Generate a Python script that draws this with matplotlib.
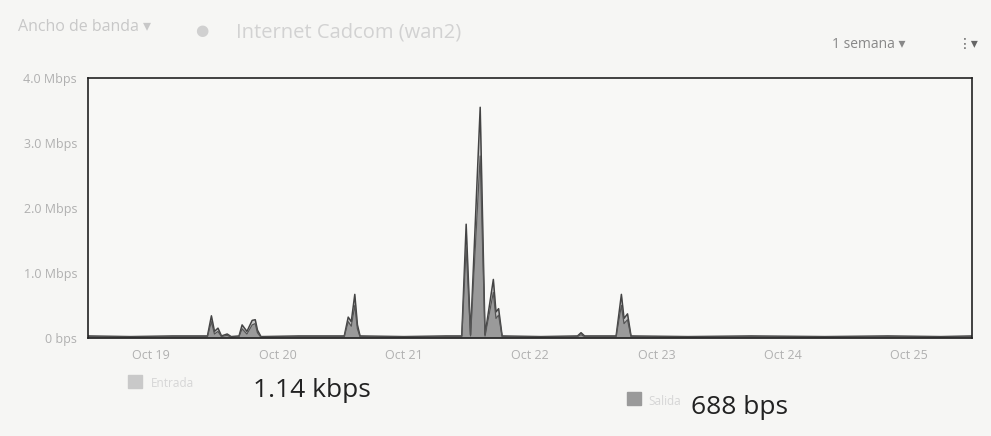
import numpy as np
import pandas as pd
import matplotlib.pyplot as plt
import matplotlib.dates as mdates

plt.rcParams['font.family'] = ['Open Sans', 'DejaVu Sans']

# times and bandwidth in Mbps
times = ["2017-10-18 12:00", "2017-10-18 20:00", "2017-10-19 04:00", "2017-10-19 10:40",
         "2017-10-19 11:25", "2017-10-19 12:00", "2017-10-19 12:40", "2017-10-19 13:20",
         "2017-10-19 14:25", "2017-10-19 15:10", "2017-10-19 16:40", "2017-10-19 17:15",
         "2017-10-19 18:10", "2017-10-19 19:10", "2017-10-19 19:45", "2017-10-19 20:10",
         "2017-10-19 20:50", "2017-10-20 04:00", "2017-10-20 12:40", "2017-10-20 13:25",
         "2017-10-20 14:00", "2017-10-20 14:40", "2017-10-20 15:10", "2017-10-20 15:40",
         "2017-10-21 00:00", "2017-10-21 08:00", "2017-10-21 11:00", "2017-10-21 11:50",
         "2017-10-21 12:40", "2017-10-21 14:30", "2017-10-21 15:25", "2017-10-21 17:00",
         "2017-10-21 17:30", "2017-10-21 18:00", "2017-10-21 18:40", "2017-10-22 02:00",
         "2017-10-22 09:00", "2017-10-22 09:40", "2017-10-22 10:20", "2017-10-22 16:20",
         "2017-10-22 17:20", "2017-10-22 17:50", "2017-10-22 18:30", "2017-10-22 19:10",
         "2017-10-23 06:00", "2017-10-23 18:00", "2017-10-24 08:00", "2017-10-24 20:00",
         "2017-10-25 06:00", "2017-10-25 12:00"]
entrada = [0.03, 0.02, 0.03, 0.03, 0.34, 0.10, 0.15, 0.03, 0.06, 0.02, 0.03, 0.20,
           0.10, 0.27, 0.28, 0.12, 0.02, 0.03, 0.03, 0.32, 0.25, 0.67, 0.20, 0.03,
           0.02, 0.03, 0.03, 1.75, 0.05, 3.55, 0.05, 0.90, 0.40, 0.45, 0.03, 0.02,
           0.03, 0.08, 0.03, 0.03, 0.67, 0.30, 0.37, 0.03, 0.02, 0.03, 0.02, 0.03,
           0.02, 0.03]
salida = [0.02, 0.01, 0.02, 0.02, 0.25, 0.06, 0.10, 0.02, 0.04, 0.01, 0.02, 0.14,
          0.06, 0.20, 0.22, 0.08, 0.01, 0.02, 0.02, 0.25, 0.18, 0.50, 0.14, 0.02,
          0.01, 0.02, 0.02, 1.40, 0.03, 2.80, 0.03, 0.70, 0.30, 0.35, 0.02, 0.01,
          0.02, 0.05, 0.02, 0.02, 0.50, 0.22, 0.28, 0.02, 0.01, 0.02, 0.01, 0.02,
          0.01, 0.02]
yticks = [0, 1, 2, 3, 4]
ylabels = ["0 bps", "1.0 Mbps", "2.0 Mbps", "3.0 Mbps", "4.0 Mbps"]
xticks = ["2017-10-19", "2017-10-20", "2017-10-21", "2017-10-22", "2017-10-23", "2017-10-24", "2017-10-25"]

t = pd.to_datetime(times)

fig = plt.figure(figsize=(9.91, 4.36), dpi=100)
fig.patch.set_facecolor("#f6f6f4")
ax = fig.add_axes([0.089, 0.225, 0.892, 0.596])
ax.set_facecolor("#f8f8f6")

ax.fill_between(t, entrada, color="#c9c9c9", lw=0)
ax.fill_between(t, salida, color="#9a9a9a", lw=0)
ax.plot(t, entrada, color="#444444", lw=1.1)
ax.plot(t, salida, color="#555555", lw=0.9)

ax.set_xlim(t[0], t[-1])
ax.set_ylim(0, 4)
ax.set_yticks(yticks)
ax.set_yticklabels(ylabels)
ax.set_xticks(pd.to_datetime(xticks))
ax.xaxis.set_major_formatter(mdates.DateFormatter("Oct %d"))
ax.tick_params(length=0, colors="#b0b0b0", labelsize=9, pad=8)
for s in ax.spines.values():
    s.set_color("#222222")
    s.set_linewidth(1.2)

# header
fig.text(0.018, 0.93, "Ancho de banda ▾", color="#c8c8c8", fontsize=11.5,
         family=['Open Sans', 'DejaVu Sans'])
fig.text(0.197, 0.92, "●", color="#d0d0d0", fontsize=11, family=['DejaVu Sans'])
fig.text(0.238, 0.915, "Internet Cadcom (wan2)", color="#d2d2d2", fontsize=14.5)
fig.text(0.84, 0.89, "1 semana ▾", color="#888888", fontsize=10,
         family=['Open Sans', 'DejaVu Sans'])
fig.text(0.966, 0.89, "⋮▾", color="#666666", fontsize=10, family=['DejaVu Sans'])

# legend / summary
fig.add_artist(plt.Rectangle((0.129, 0.11), 0.014, 0.03, color="#c9c9c9", transform=fig.transFigure))
fig.text(0.152, 0.112, "Entrada", color="#d6d6d6", fontsize=8.5)
fig.text(0.255, 0.09, "1.14 kbps", color="#222222", fontsize=19)
fig.add_artist(plt.Rectangle((0.633, 0.07), 0.014, 0.03, color="#9a9a9a", transform=fig.transFigure))
fig.text(0.654, 0.072, "Salida", color="#d6d6d6", fontsize=8.5)
fig.text(0.697, 0.05, "688 bps", color="#222222", fontsize=19)

plt.savefig("out.png")
